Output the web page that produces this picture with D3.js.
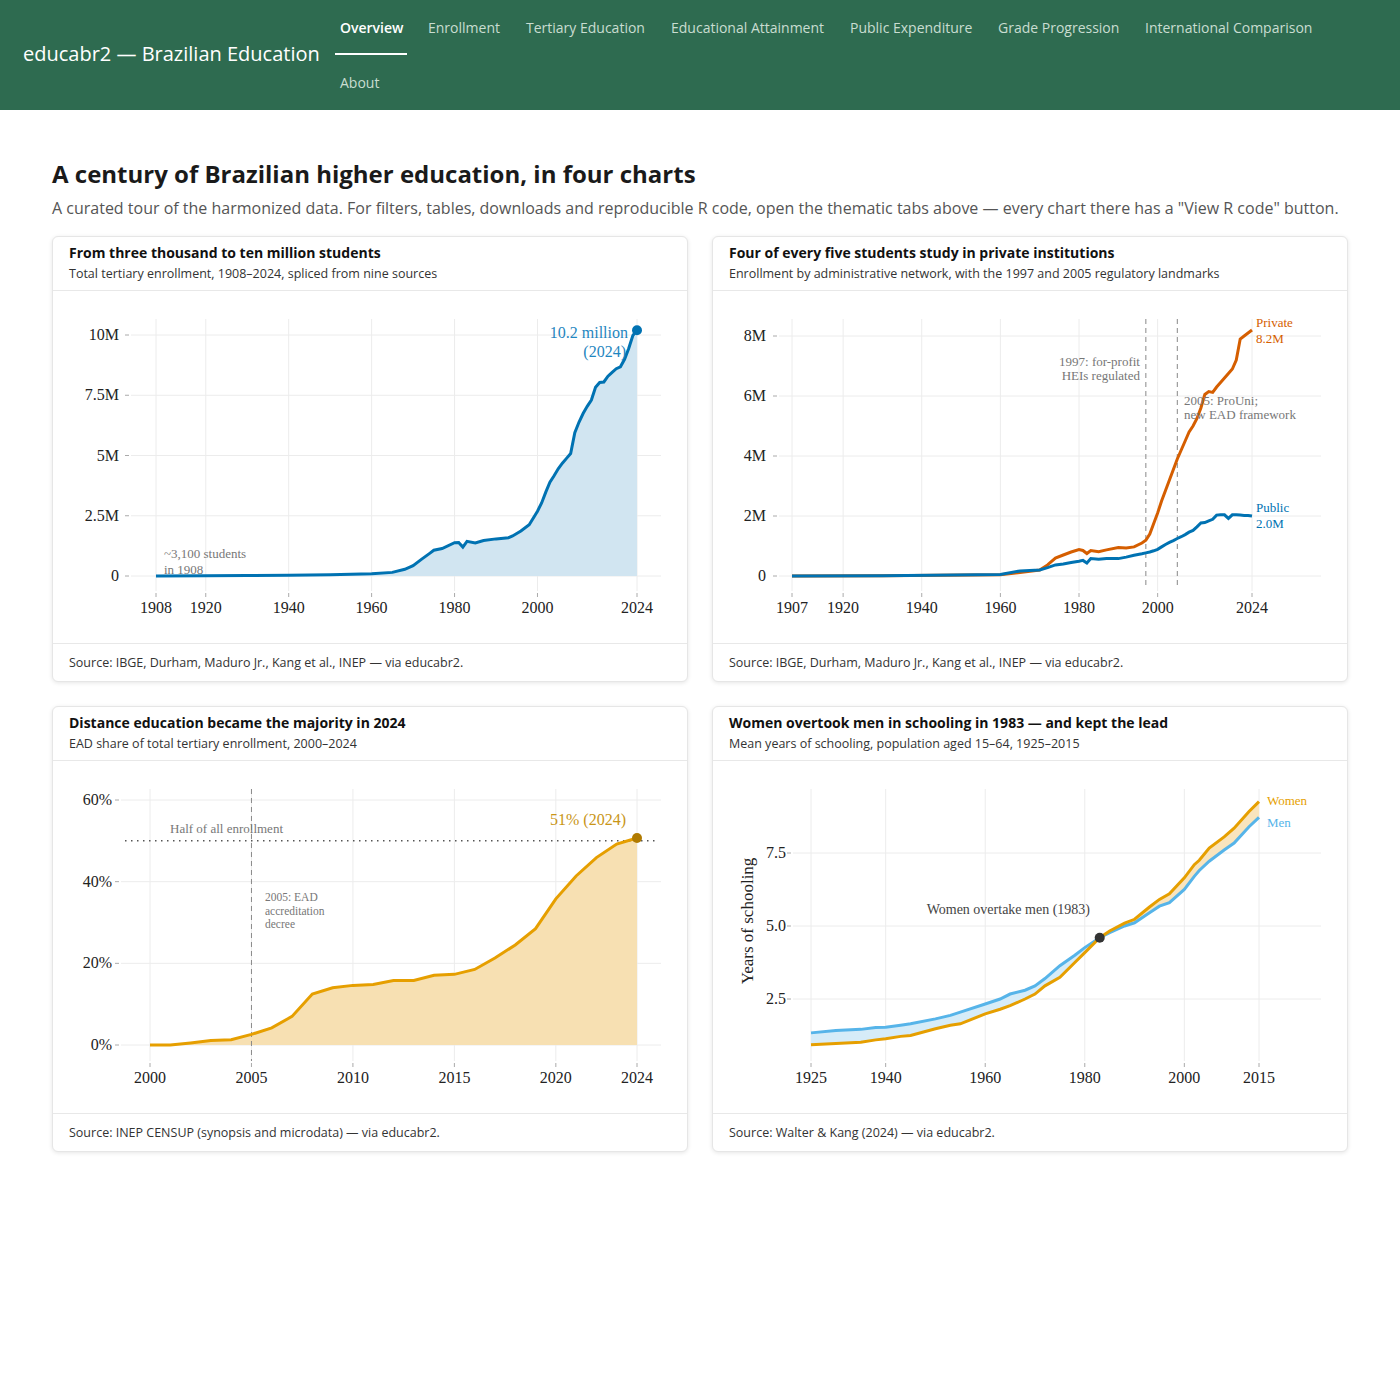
<!DOCTYPE html>
<html>
<head>
<meta charset="utf-8">
<script src="https://cdn.jsdelivr.net/npm/d3@7"></script>
<style>
  body { margin: 0; font-family: "Open Sans", sans-serif; background: #fff; }
  .nav { position: absolute; left: 0; top: 0; width: 1400px; height: 110px; background: #2e6b50; }
  .brand { position: absolute; left: 23px; top: 40px; color: #fff; font-size: 20px; }
  .nav a { position: absolute; color: #c9ddd1; font-size: 14px; text-decoration: none; white-space: nowrap; }
  .nav a.active { color: #fff; font-weight: 600; }
  .uline { position: absolute; left: 335px; top: 53px; width: 72px; height: 2px; background: #fff; }
  h1 { position: absolute; left: 52px; top: 157px; margin: 0; font-size: 24px; font-weight: 700; color: #1a1a1a; }
  .lede { position: absolute; left: 52px; top: 197px; font-size: 16px; color: #555; white-space: nowrap; }
  .card { position: absolute; width: 634px; height: 444px; border: 1px solid #e6e6e6; border-radius: 6px;
          box-shadow: 0 1px 4px rgba(0,0,0,0.1); background: #fff; }
  .card .hd { height: 53px; border-bottom: 1px solid #e8e8e8; padding-left: 16px; }
  .card .t { position: absolute; top: 6px; left: 16px; font-size: 14px; font-weight: 700; color: #111; }
  .card .s { position: absolute; top: 28px; left: 16px; font-size: 12.5px; color: #333; }
  .card svg { position: absolute; left: 0; top: 54px; }
  .card .ft { position: absolute; top: 406px; width: 634px; height: 38px; border-top: 1px solid #e8e8e8; }
  .card .ft span { position: absolute; left: 16px; top: 10px; font-size: 12.5px; color: #333; }
  .tk { font-family: "Liberation Serif", serif; font-size: 16px; fill: #222; }
  .ann { font-family: "Liberation Serif", serif; font-size: 13px; fill: #777; }
</style>
</head>
<body>
<div class="nav">
  <div class="brand">educabr2 — Brazilian Education</div>
  <a class="active" style="left:340px;top:18px">Overview</a>
  <a style="left:428px;top:18px">Enrollment</a>
  <a style="left:526px;top:18px">Tertiary Education</a>
  <a style="left:671px;top:18px">Educational Attainment</a>
  <a style="left:850px;top:18px">Public Expenditure</a>
  <a style="left:998px;top:18px">Grade Progression</a>
  <a style="left:1145px;top:18px">International Comparison</a>
  <div class="uline"></div>
  <a style="left:340px;top:73px">About</a>
</div>
<h1>A century of Brazilian higher education, in four charts</h1>
<div class="lede">A curated tour of the harmonized data. For filters, tables, downloads and reproducible R code, open the thematic tabs above — every chart there has a "View R code" button.</div>
<div id="cards"></div>
<script>
// ---- data ----
const totalYears = [1908,1920,1930,1940,1950,1960,1965,1968,1970,1972,1974,1975,1977,1980,1981,1982,1983,1985,1987,1990,1993,1994,1996,1998,2000,2001,2002,2003,2004,2005,2006,2007,2008,2009,2010,2011,2012,2013,2014,2015,2016,2017,2018,2019,2020,2021,2022,2023,2024];
const totalM = [0.003,0.01,0.02,0.027,0.05,0.095,0.15,0.28,0.43,0.69,0.94,1.07,1.14,1.38,1.39,1.2,1.44,1.37,1.47,1.54,1.59,1.66,1.87,2.13,2.69,3.03,3.48,3.89,4.16,4.45,4.68,4.88,5.08,5.95,6.38,6.74,7.04,7.3,7.83,8.03,8.05,8.29,8.45,8.6,8.68,8.99,9.44,9.98,10.2];

const netYears = [1907,1930,1960,1965,1970,1972,1974,1976,1978,1980,1981,1982,1983,1985,1987,1990,1992,1994,1996,1997,1998,1999,2000,2001,2002,2003,2004,2005,2006,2007,2008,2009,2010,2011,2012,2013,2014,2015,2016,2017,2018,2019,2020,2021,2022,2023,2024];
const privateM = [0,0.01,0.04,0.12,0.2,0.37,0.6,0.7,0.8,0.88,0.85,0.75,0.85,0.81,0.87,0.95,0.93,0.97,1.1,1.19,1.4,1.75,2.1,2.5,2.85,3.2,3.55,3.9,4.2,4.5,4.8,5.0,5.25,5.6,6.05,6.15,6.12,6.3,6.45,6.6,6.75,6.9,7.2,7.9,8.0,8.1,8.2];
const publicM = [0,0.01,0.05,0.17,0.2,0.28,0.37,0.4,0.45,0.49,0.52,0.43,0.58,0.56,0.58,0.58,0.63,0.69,0.74,0.77,0.8,0.84,0.89,0.97,1.05,1.12,1.18,1.25,1.31,1.38,1.46,1.52,1.64,1.77,1.78,1.84,1.89,2.03,2.04,2.04,1.92,2.04,2.04,2.03,2.02,2.02,2.0];

const eadYears = d3.range(2000, 2025);
const eadShare = [0.0,0.0,0.5,1.1,1.3,2.6,4.2,7.0,12.5,14.0,14.6,14.8,15.8,15.8,17.1,17.3,18.5,21.3,24.5,28.5,35.8,41.4,45.9,49.2,50.7];

const schoolYears = [1925,1930,1935,1938,1940,1943,1945,1950,1953,1955,1960,1963,1965,1968,1970,1972,1975,1978,1980,1983,1985,1988,1990,1993,1995,1997,2000,2002,2003,2005,2008,2010,2013,2015];
const men =   [1.34,1.42,1.46,1.52,1.53,1.6,1.65,1.82,1.94,2.05,2.33,2.5,2.67,2.8,2.95,3.2,3.64,4.0,4.26,4.6,4.77,5.0,5.11,5.45,5.68,5.8,6.25,6.7,6.9,7.22,7.6,7.84,8.4,8.72];
const women = [0.93,0.98,1.02,1.1,1.14,1.22,1.25,1.48,1.6,1.65,1.99,2.15,2.27,2.5,2.67,2.95,3.24,3.75,4.09,4.6,4.83,5.1,5.23,5.65,5.91,6.1,6.65,7.1,7.25,7.67,8.05,8.35,8.92,9.26];

const sources = [
  "Source: IBGE, Durham, Maduro Jr., Kang et al., INEP — via educabr2.",
  "Source: IBGE, Durham, Maduro Jr., Kang et al., INEP — via educabr2.",
  "Source: INEP CENSUP (synopsis and microdata) — via educabr2.",
  "Source: Walter & Kang (2024) — via educabr2."
];
const titles = [
  ["From three thousand to ten million students", "Total tertiary enrollment, 1908–2024, spliced from nine sources"],
  ["Four of every five students study in private institutions", "Enrollment by administrative network, with the 1997 and 2005 regulatory landmarks"],
  ["Distance education became the majority in 2024", "EAD share of total tertiary enrollment, 2000–2024"],
  ["Women overtook men in schooling in 1983 — and kept the lead", "Mean years of schooling, population aged 15–64, 1925–2015"]
];
const pos = [[52,236],[712,236],[52,706],[712,706]];

const svgs = pos.map((p, i) => {
  const card = d3.select("#cards").append("div").attr("class", "card")
    .style("left", p[0] + "px").style("top", p[1] + "px");
  const hd = card.append("div").attr("class", "hd");
  hd.append("div").attr("class", "t").text(titles[i][0]);
  hd.append("div").attr("class", "s").text(titles[i][1]);
  card.append("div").attr("class", "ft").append("span").text(sources[i]);
  return card.append("svg").attr("width", 634).attr("height", 352);
});

function frame(svg, x, y, xt, yt, yfmt, gx0, gx1, gy0, gy1, labelX) {
  const g = svg.append("g");
  g.selectAll(".vg").data(xt).join("line")
    .attr("x1", d => x(d)).attr("x2", d => x(d)).attr("y1", gy0).attr("y2", gy1)
    .attr("stroke", "#ececec");
  g.selectAll(".hg").data(yt).join("line")
    .attr("x1", gx0).attr("x2", gx1).attr("y1", d => y(d)).attr("y2", d => y(d))
    .attr("stroke", "#ececec");
  g.selectAll(".yt").data(yt).join("line")
    .attr("x1", gx0 - 6).attr("x2", gx0 - 2).attr("y1", d => y(d)).attr("y2", d => y(d))
    .attr("stroke", "#aaa");
  g.selectAll(".xt").data(xt).join("line")
    .attr("x1", d => x(d)).attr("x2", d => x(d)).attr("y1", gy1 + 2).attr("y2", gy1 + 6)
    .attr("stroke", "#aaa");
  g.selectAll(".yl").data(yt).join("text").attr("class", "tk")
    .attr("x", labelX).attr("y", d => y(d) + 5).attr("text-anchor", "end").text(yfmt);
  g.selectAll(".xl").data(xt).join("text").attr("class", "tk")
    .attr("x", d => x(d)).attr("y", 322).attr("text-anchor", "middle").text(d => d);
}

// ---- chart 1 ----
{
  const svg = svgs[0];
  const x = d3.scaleLinear().domain([1908, 2024]).range([103, 584]);
  const y = d3.scaleLinear().domain([0, 10]).range([285, 44]);
  frame(svg, x, y, [1908,1920,1940,1960,1980,2000,2024], [0,2.5,5,7.5,10],
    d => d === 0 ? "0" : d + "M", 78, 608, 28, 300, 66);
  const pts = totalYears.map((yr, i) => [yr, totalM[i]]);
  svg.append("path").datum(pts).attr("fill", "#d1e5f1")
    .attr("d", d3.area().x(d => x(d[0])).y0(y(0)).y1(d => y(d[1])));
  svg.append("path").datum(pts).attr("fill", "none").attr("stroke", "#0072B2").attr("stroke-width", 3)
    .attr("d", d3.line().x(d => x(d[0])).y(d => y(d[1])));
  svg.append("circle").attr("cx", x(2024)).attr("cy", y(10.2)).attr("r", 5).attr("fill", "#0072B2");
  svg.append("text").attr("class", "tk").attr("x", 575).attr("y", 47).attr("text-anchor", "end")
    .style("fill", "#1f86c0").text("10.2 million");
  svg.append("text").attr("class", "tk").attr("x", 573).attr("y", 66).attr("text-anchor", "end")
    .style("fill", "#1f86c0").text("(2024)");
  svg.append("text").attr("class", "ann").attr("x", 111).attr("y", 267).text("~3,100 students");
  svg.append("text").attr("class", "ann").attr("x", 111).attr("y", 283).text("in 1908");
}

// ---- chart 2 ----
{
  const svg = svgs[1];
  const x = d3.scaleLinear().domain([1907, 2024]).range([79, 539]);
  const y = d3.scaleLinear().domain([0, 8]).range([285, 45]);
  frame(svg, x, y, [1907,1920,1940,1960,1980,2000,2024], [0,2,4,6,8],
    d => d === 0 ? "0" : d + "M", 66, 608, 28, 300, 53);
  [1997, 2005].forEach(yr => svg.append("line").attr("x1", x(yr)).attr("x2", x(yr))
    .attr("y1", 28).attr("y2", 296).attr("stroke", "#888").attr("stroke-dasharray", "5,4"));
  const line = d3.line().x(d => x(d[0])).y(d => y(d[1]));
  svg.append("path").datum(netYears.map((yr, i) => [yr, privateM[i]])).attr("fill", "none")
    .attr("stroke", "#D55E00").attr("stroke-width", 3).attr("d", line);
  svg.append("path").datum(netYears.map((yr, i) => [yr, publicM[i]])).attr("fill", "none")
    .attr("stroke", "#0072B2").attr("stroke-width", 3).attr("d", line);
  const lab = (t, xx, yy, c, a) => svg.append("text").attr("class", "ann").attr("x", xx).attr("y", yy)
    .attr("text-anchor", a || "start").style("fill", c).text(t);
  lab("Private", 543, 36, "#D55E00"); lab("8.2M", 543, 52, "#D55E00");
  lab("Public", 543, 221, "#0072B2"); lab("2.0M", 543, 237, "#0072B2");
  lab("1997: for-profit", 427, 75, "#777", "end"); lab("HEIs regulated", 427, 89, "#777", "end");
  lab("2005: ProUni;", 471, 114, "#777"); lab("new EAD framework", 471, 128, "#777");
}

// ---- chart 3 ----
{
  const svg = svgs[2];
  const x = d3.scaleLinear().domain([2000, 2024]).range([97, 584]);
  const y = d3.scaleLinear().domain([0, 60]).range([284, 39]);
  frame(svg, x, y, [2000,2005,2010,2015,2020,2024], [0,20,40,60],
    d => d + "%", 68, 608, 28, 300, 59);
  const pts = eadYears.map((yr, i) => [yr, eadShare[i]]);
  svg.append("path").datum(pts).attr("fill", "#f7e0b2")
    .attr("d", d3.area().x(d => x(d[0])).y0(y(0)).y1(d => y(d[1])));
  svg.append("line").attr("x1", 72).attr("x2", 604).attr("y1", y(50)).attr("y2", y(50))
    .attr("stroke", "#555").attr("stroke-width", 1.5).attr("stroke-dasharray", "1.5,4.5");
  svg.append("line").attr("x1", x(2005)).attr("x2", x(2005)).attr("y1", 28).attr("y2", 300)
    .attr("stroke", "#888").attr("stroke-dasharray", "5,4");
  svg.append("path").datum(pts).attr("fill", "none").attr("stroke", "#E69F00").attr("stroke-width", 3)
    .attr("d", d3.line().x(d => x(d[0])).y(d => y(d[1])));
  svg.append("circle").attr("cx", x(2024)).attr("cy", y(50.7)).attr("r", 5).attr("fill", "#b07a00");
  svg.append("text").attr("class", "tk").attr("x", 573).attr("y", 64).attr("text-anchor", "end")
    .style("fill", "#c99516").text("51% (2024)");
  svg.append("text").attr("class", "ann").attr("x", 117).attr("y", 72).text("Half of all enrollment");
  [["2005: EAD", 140], ["accreditation", 154], ["decree", 167]].forEach(t =>
    svg.append("text").attr("class", "ann").style("font-size", "11.5px").attr("x", 212).attr("y", t[1]).text(t[0]));
}

// ---- chart 4 ----
{
  const svg = svgs[3];
  const x = d3.scaleLinear().domain([1925, 2015]).range([98, 546]);
  const y = d3.scaleLinear().domain([2.5, 7.5]).range([238, 92]);
  frame(svg, x, y, [1925,1940,1960,1980,2000,2015], [2.5,5,7.5],
    d => d.toFixed(1), 80, 608, 28, 300, 73);
  const rows = schoolYears.map((yr, i) => ({ yr, m: men[i], w: women[i] }));
  const area = d3.area().x(d => x(d.yr)).y0(d => y(d.m)).y1(d => y(d.w));
  svg.append("path").datum(rows.filter(d => d.yr <= 1983)).attr("fill", "#d6ecf8").attr("d", area);
  svg.append("path").datum(rows.filter(d => d.yr >= 1983)).attr("fill", "#f9e4bd").attr("d", area);
  svg.append("path").datum(rows).attr("fill", "none").attr("stroke", "#56B4E9").attr("stroke-width", 3)
    .attr("d", d3.line().x(d => x(d.yr)).y(d => y(d.m)));
  svg.append("path").datum(rows).attr("fill", "none").attr("stroke", "#E69F00").attr("stroke-width", 3)
    .attr("d", d3.line().x(d => x(d.yr)).y(d => y(d.w)));
  svg.append("circle").attr("cx", x(1983)).attr("cy", y(4.6)).attr("r", 5).attr("fill", "#333");
  svg.append("text").attr("class", "ann").style("fill", "#444").style("font-size", "14px")
    .attr("x", 377).attr("y", 153).attr("text-anchor", "end").text("Women overtake men (1983)");
  svg.append("text").attr("class", "ann").style("fill", "#E69F00").attr("x", 554).attr("y", 44).text("Women");
  svg.append("text").attr("class", "ann").style("fill", "#56B4E9").attr("x", 554).attr("y", 66).text("Men");
  svg.append("text").attr("class", "tk").style("font-size", "17px")
    .attr("transform", "translate(40,160) rotate(-90)").attr("text-anchor", "middle").text("Years of schooling");
}
</script>
</body>
</html>
